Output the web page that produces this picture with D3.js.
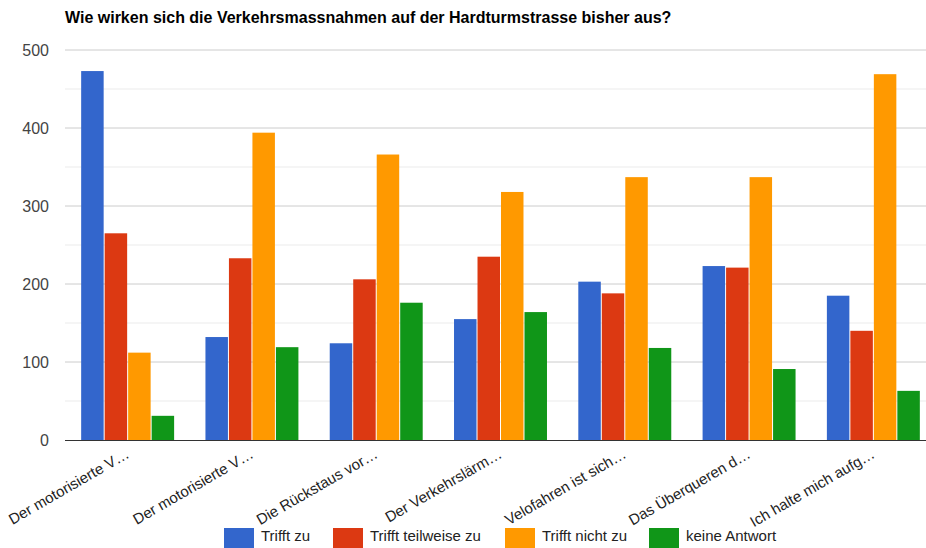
<!DOCTYPE html>
<html><head><meta charset="utf-8">
<script src="https://cdn.jsdelivr.net/npm/d3@7"></script>
<style>body{margin:0;background:#fff}svg{display:block;font-family:"Liberation Sans",Arial,sans-serif}</style>
</head><body><svg id="c" width="926" height="548"></svg>
<script>
const title = "Wie wirken sich die Verkehrsmassnahmen auf der Hardturmstrasse bisher aus?";
const categories = ["Der motorisierte V…","Der motorisierte V…","Die Rückstaus vor…","Der Verkehrslärm…","Velofahren ist sich…","Das Überqueren d…","Ich halte mich aufg…"];
const seriesNames = ["Trifft zu","Trifft teilweise zu","Trifft nicht zu","keine Antwort"];
const seriesColors = ["#3366cc","#dc3912","#ff9900","#109618"];
const triffZu = [473,132,124,155,203,223,185];
const teilweise = [265,233,206,235,188,221,140];
const nichtZu = [112,394,366,318,337,337,469];
const keineAntwort = [31,119,176,164,118,91,63];
const yTicks = [0,100,200,300,400,500];
const yMinor = [50,150,250,350,450];

const series = [triffZu, teilweise, nichtZu, keineAntwort];
const svg = d3.select("#c");
const L = 66, R = 936, T = 50, B = 440;
const x0 = d3.scaleBand().domain(d3.range(categories.length)).range([L, R]).paddingInner(0.244).paddingOuter(0.122);
const x1 = d3.scaleBand().domain(d3.range(series.length)).range([0, x0.bandwidth()]);
const y = d3.scaleLinear().domain([0, 500]).range([B, T]);

svg.append("g").selectAll("line").data(yMinor).join("line")
  .attr("x1", 65).attr("x2", 926).attr("y1", d => y(d)).attr("y2", d => y(d))
  .attr("stroke", "#ebebeb").attr("stroke-width", 1);
svg.append("g").selectAll("line").data(yTicks.slice(1)).join("line")
  .attr("x1", 65).attr("x2", 926).attr("y1", d => y(d)).attr("y2", d => y(d))
  .attr("stroke", "#cccccc").attr("stroke-width", 1);

svg.append("g").selectAll("text").data(yTicks).join("text")
  .attr("x", 49).attr("y", d => y(d) + 6).attr("text-anchor", "end")
  .attr("font-size", 16).attr("fill", "#444").text(d => d);

const g = svg.append("g").selectAll("g").data(categories).join("g")
  .attr("transform", (d, i) => `translate(${x0(i)},0)`);
g.selectAll("rect").data((d, i) => series.map((s, k) => ({k, v: s[i]}))).join("rect")
  .attr("x", d => x1(d.k)).attr("width", x1.bandwidth() - 1)
  .attr("y", d => y(d.v)).attr("height", d => B - y(d.v))
  .attr("fill", d => seriesColors[d.k]);

svg.append("line").attr("x1", 65).attr("x2", 926).attr("y1", B + 0.5).attr("y2", B + 0.5)
  .attr("stroke", "#333").attr("stroke-width", 1.2);

svg.append("g").selectAll("text").data(categories).join("text")
  .attr("transform", (d, i) => `translate(${x0(i) + x0.bandwidth() / 2 + 2},${B + 17}) rotate(-30)`)
  .attr("text-anchor", "end").attr("font-size", 15).attr("fill", "#222").text(d => d);

svg.append("text").attr("x", 65).attr("y", 23).attr("font-size", 16).attr("font-weight", "bold")
  .attr("fill", "#000").text(title);

const legX = [224, 333, 505, 649];
const lg = svg.append("g").selectAll("g").data(seriesNames).join("g")
  .attr("transform", (d, i) => `translate(${legX[i]},528)`);
lg.append("rect").attr("width", 30).attr("height", 20).attr("fill", (d, i) => seriesColors[i]);
lg.append("text").attr("x", 37).attr("y", 13).attr("font-size", 15).attr("fill", "#222").text(d => d);
</script></body></html>
